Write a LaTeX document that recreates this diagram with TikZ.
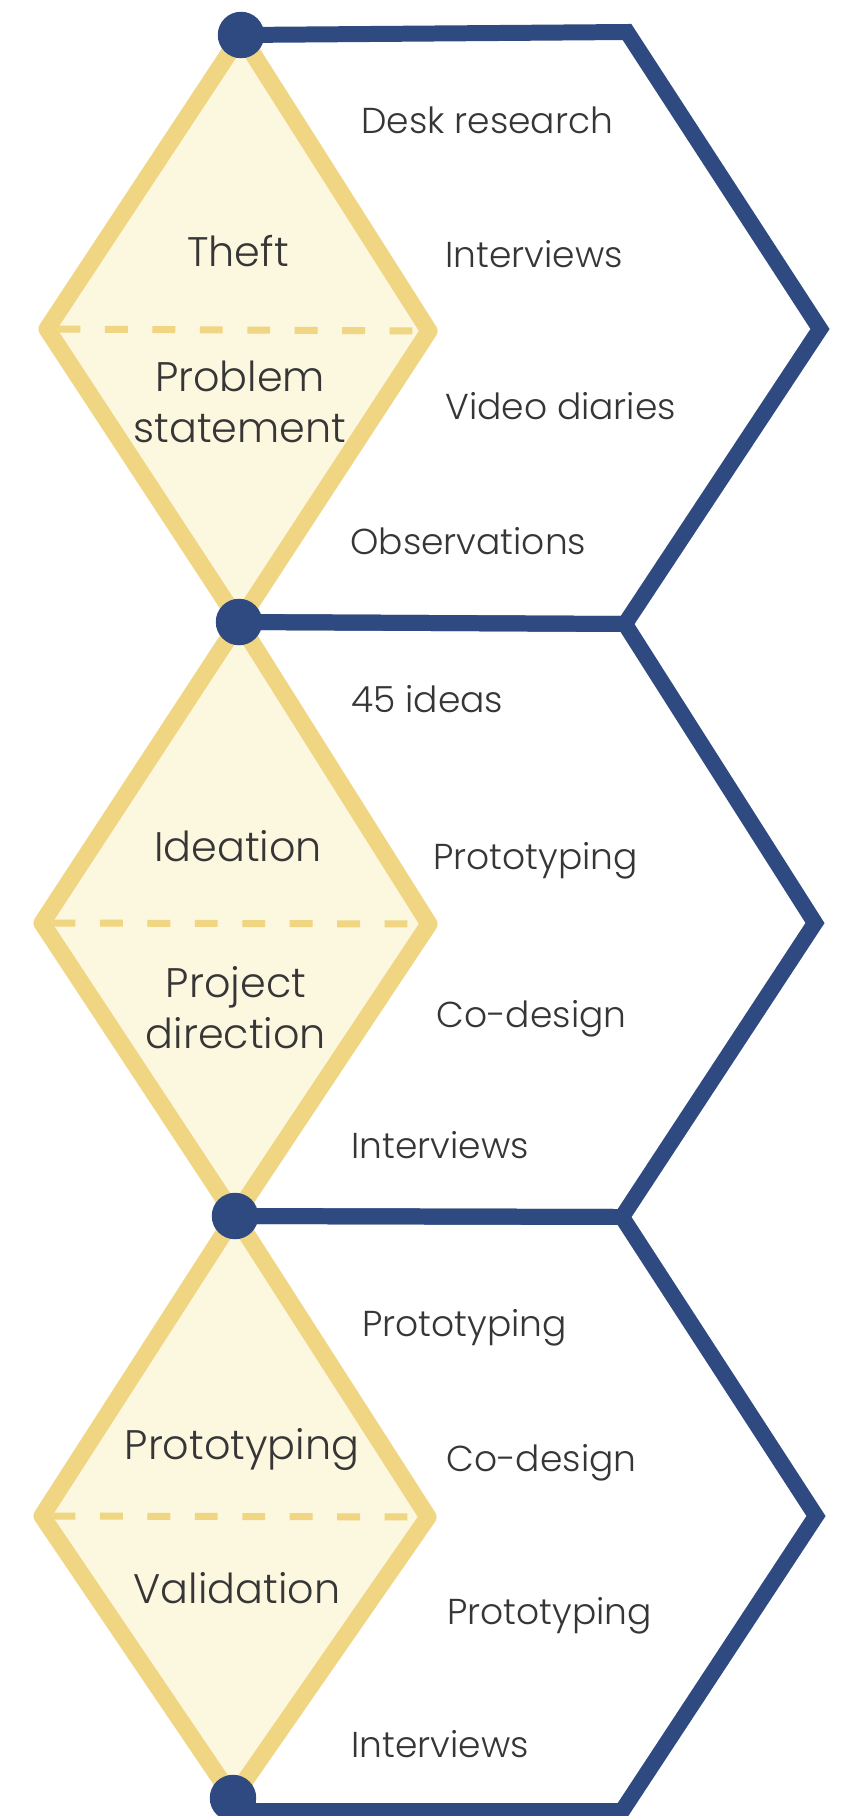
\documentclass[tikz,border=0pt]{standalone}
\usepackage{fontspec}
\IfFontExistsTF{Poppins Light}{\setmainfont{Poppins Light}}{%
  \IfFontExistsTF{Poppins-Light.otf}{\setmainfont{Poppins-Light.otf}}{%
    \IfFontExistsTF{Poppins-Light.ttf}{\setmainfont{Poppins-Light.ttf}}{%
      \setmainfont{Poppins}}}}
\definecolor{navy}{HTML}{2F4A80}
\definecolor{gold}{HTML}{F0D582}
\definecolor{cream}{HTML}{FCF7DF}
\definecolor{ink}{HTML}{363636}
\tikzset{
  rim/.style={draw=gold,line width=9.7pt,line join=round,fill=cream},
  split/.style={gold,line width=4pt,dash pattern=on 13pt off 14pt,dash phase=21pt},
  frame/.style={navy,line width=9.1pt,line join=miter},
  hub/.style={circle,fill=navy,minimum size=0.93cm,inner sep=0pt},
  phasetitle/.style={anchor=base,align=center,inner sep=0pt,text=ink,
                     font=\fontsize{23.5}{29}\selectfont},
  method/.style={anchor=base west,inner sep=0pt,text=ink,
                 font=\fontsize{20.5}{25}\selectfont},
}
% gold diamond hung between two hubs, cut by a dashed midline
\newcommand{\diamondphase}[5]{%
  \coordinate (#1w) at #4;
  \coordinate (#1e) at #5;
  \draw[rim] (#2) -- (#1w) -- (#3) -- (#1e) -- cycle;
  \draw[split] (#1w) -- (#1e);}

\begin{document}
\begin{tikzpicture}[x=0.02cm,y=-0.02cm]
  \useasboundingbox (0,0) rectangle (842,1816);

  % where the phases meet
  \coordinate (h0) at (241,35);
  \coordinate (h1) at (239,622);
  \coordinate (h2) at (235,1216);
  \coordinate (h3) at (233,1798);

  \diamondphase{p1}{h0}{h1}{(47,329)}{(429,331)}
  \diamondphase{p2}{h1}{h2}{(42,923)}{(429,924)}
  \diamondphase{p3}{h2}{h3}{(42,1516)}{(428,1517)}

  % navy half-hexagons on the right
  \coordinate (c0) at (627,32);
  \coordinate (t0) at (820,329);
  \coordinate (c1) at (625,624);
  \coordinate (t1) at (815,923);
  \coordinate (c2) at (622,1217);
  \coordinate (t2) at (816,1516);
  \coordinate (c3) at (622,1811);
  \draw[frame] (h0) -- (c0) -- (t0) -- (c1) -- (h1);
  \draw[frame] (h1) -- (c1) -- (t1) -- (c2) -- (h2);
  \draw[frame] (h2) -- (c2) -- (t2) -- (c3) -- (h3 |- c3);

  \node[hub] (dot0) at (h0) {};
  \node[hub] (dot1) at (h1) {};
  \node[hub] (dot2) at (h2) {};
  \node[hub] (dot3) at (h3) {};

  % phase names, above and below the midline (base = last line)
  \node[phasetitle] (theft) at (238,266) {Theft};
  \node[phasetitle] (problem) at (240,442) {Problem\\statement};
  \node[phasetitle] (ideation) at (238,861) {Ideation};
  \node[phasetitle] (direction) at (236,1048) {Project\\direction};
  \node[phasetitle] (proto) at (242,1459) {Prototyping};
  \node[phasetitle] (valid) at (237,1603) {Validation};

  % methods used in each phase
  \foreach \x/\y/\t [count=\i] in {361/133/Desk research, 445/267/Interviews,
      445/419/Video diaries, 350/554/Observations,
      351/712/45 ideas, 433/869/Prototyping, 436/1027/Co-design,
      351/1158/Interviews,
      362/1336/Prototyping, 446/1471/Co-design, 447/1624/Prototyping,
      351/1757/Interviews}
    \node[method] (m\i) at (\x,\y) {\t};
\end{tikzpicture}
\end{document}
